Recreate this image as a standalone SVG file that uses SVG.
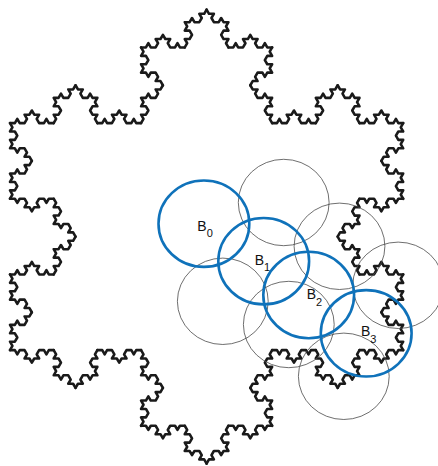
<svg xmlns="http://www.w3.org/2000/svg" width="438" height="466" viewBox="0 0 438 466">
<style>
.koch{fill:none;stroke:#1a1a1a;stroke-width:4.8;stroke-linejoin:round;stroke-linecap:round}
.thin{fill:none;stroke:#4a4a4a;stroke-width:0.8}
.blue{fill:none;stroke:#0f72ba;stroke-width:2.6}
.lbl{font-family:"Liberation Sans",Arial,sans-serif;font-size:14px;fill:#111}
.sub{font-size:11px}
</style>
<defs>
<path id="k2" d="M0,0L9,0 13.5,-7.794 18,0 27,0 31.5,-7.794 27,-15.588 36,-15.588 40.5,-23.383 45,-15.588 54,-15.588 49.5,-7.794 54,0 63,0 67.5,-7.794 72,0 81,0"/>
<g id="k3"><use href="#k2" transform="scale(0.3333333)"/><use href="#k2" transform="translate(27,0) rotate(-60) scale(0.3333333)"/><use href="#k2" transform="translate(40.5,-23.3827) rotate(60) scale(0.3333333)"/><use href="#k2" transform="translate(54,0) scale(0.3333333)"/></g>
<g id="k4"><use href="#k3" transform="scale(0.3333333)"/><use href="#k3" transform="translate(27,0) rotate(-60) scale(0.3333333)"/><use href="#k3" transform="translate(40.5,-23.3827) rotate(60) scale(0.3333333)"/><use href="#k3" transform="translate(54,0) scale(0.3333333)"/></g>
</defs>
<rect width="438" height="466" fill="#fff"/>
<g id="snowflake" class="koch">
<use href="#k4" transform="translate(206.6,9.6) rotate(60) scale(4.8541)"/>
<use href="#k4" transform="translate(403.19,350.1) rotate(180) scale(4.8541)"/>
<use href="#k4" transform="translate(10.01,350.1) rotate(-60) scale(4.8541)"/>
</g>
<g id="thin-circles" class="thin">
<ellipse id="c1" cx="283.7" cy="202.5" rx="45.4" ry="43.2"/>
<ellipse id="c2" cx="339.5" cy="246.3" rx="45.4" ry="43.2"/>
<ellipse id="c3" cx="398.2" cy="285.3" rx="45.4" ry="43.2"/>
<ellipse id="c4" cx="222.8" cy="301.3" rx="45.4" ry="43.2"/>
<ellipse id="c5" cx="288.8" cy="324.5" rx="45.4" ry="43.2"/>
<ellipse id="c6" cx="343.8" cy="376.3" rx="45.4" ry="43.2"/>
</g>
<g id="B0"><ellipse class="blue" cx="203.9" cy="223.7" rx="45.4" ry="43.2"/><text class="lbl" x="197.3" y="231">B<tspan class="sub" dy="5.7">0</tspan></text></g>
<g id="B1"><ellipse class="blue" cx="263.7" cy="261.2" rx="45.4" ry="43.2"/><text class="lbl" x="254.7" y="265">B<tspan class="sub" dy="5.7">1</tspan></text></g>
<g id="B2"><ellipse class="blue" cx="308.7" cy="295" rx="45.4" ry="43.2"/><text class="lbl" x="306.7" y="299.3">B<tspan class="sub" dy="6.3">2</tspan></text></g>
<g id="B3"><ellipse class="blue" cx="366.2" cy="333.3" rx="45.4" ry="43.2"/><text class="lbl" x="361" y="336">B<tspan class="sub" dy="6.5">3</tspan></text></g>
</svg>
